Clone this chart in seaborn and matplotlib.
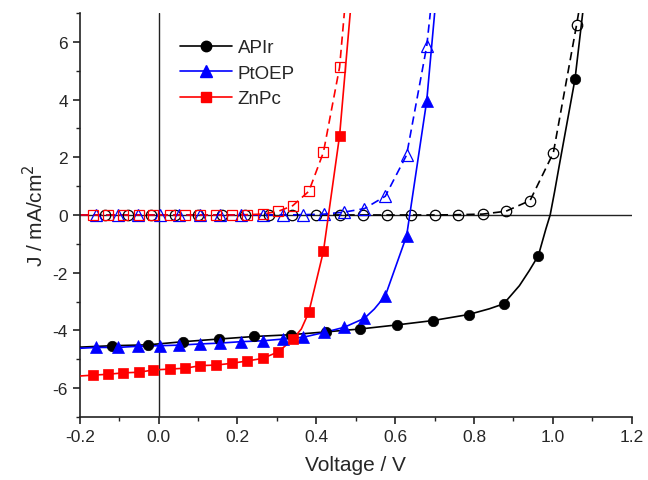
import numpy as np
import matplotlib
matplotlib.use("Agg")
import matplotlib.pyplot as plt
from matplotlib.lines import Line2D
from matplotlib.ticker import AutoMinorLocator, FormatStrFormatter, MultipleLocator
import seaborn as sns

# ===== Data =====
# APIr (black) - illuminated (filled) and dark (open)
apir_light_v = [-0.117, -0.027, 0.063, 0.152, 0.243, 0.335, 0.425, 0.512, 0.604, 0.695, 0.786, 0.875, 0.963, 1.056]
apir_light_j = [-4.53, -4.50, -4.39, -4.30, -4.21, -4.15, -4.05, -3.95, -3.81, -3.66, -3.45, -3.08, -1.41, 4.71]
apir_light_extra_v = [-0.2, 0.839, 0.915, 0.940, 0.982, 0.993, 1.004, 1.016, 1.09]
apir_light_extra_j = [-4.58, -3.25, -2.45, -1.93, -0.49, 0.0, 0.79, 1.71, 8.7]

apir_dark_v = [-0.137, -0.078, -0.018, 0.041, 0.100, 0.160, 0.220, 0.280, 0.339, 0.398, 0.459, 0.518,
               0.579, 0.640, 0.700, 0.759, 0.822, 0.881, 0.942, 1.001, 1.060]
apir_dark_j = [0.0, 0.0, 0.0, 0.0, 0.0, 0.0, 0.0, 0.0, 0.0, 0.0, 0.0, 0.0,
               0.0, 0.0, 0.0, 0.01, 0.03, 0.13, 0.50, 2.15, 6.59]
apir_dark_extra_v = [-0.2, 1.08]
apir_dark_extra_j = [0.0, 8.2]

# PtOEP (blue)
ptoep_light_v = [-0.158, -0.103, -0.053, 0.003, 0.053, 0.104, 0.155, 0.210, 0.264, 0.315, 0.366,
                 0.420, 0.471, 0.522, 0.575, 0.629, 0.680]
ptoep_light_j = [-4.59, -4.59, -4.55, -4.53, -4.51, -4.47, -4.44, -4.39, -4.36, -4.30, -4.24,
                 -4.07, -3.89, -3.58, -2.80, -0.72, 3.96]
ptoep_light_extra_v = [-0.2, 0.547, 0.71]
ptoep_light_extra_j = [-4.62, -3.26, 8.5]

ptoep_dark_v = ptoep_light_v
ptoep_dark_j = [0.0, 0.0, 0.0, 0.0, 0.0, 0.0, 0.0, 0.0, 0.0, 0.0, 0.01,
                0.03, 0.10, 0.22, 0.65, 2.08, 5.85]
ptoep_dark_extra_v = [-0.2, 0.70]
ptoep_dark_extra_j = [0.0, 8.4]

# ZnPc (red)
znpc_light_v = [-0.166, -0.128, -0.089, -0.050, -0.013, 0.028, 0.068, 0.106, 0.146, 0.186, 0.224,
                0.264, 0.304, 0.340, 0.381, 0.418, 0.459]
znpc_light_j = [-5.55, -5.52, -5.47, -5.45, -5.37, -5.34, -5.31, -5.22, -5.20, -5.14, -5.06,
                -4.97, -4.74, -4.31, -3.37, -1.26, 2.75]
znpc_light_extra_v = [-0.2, 0.362, 0.50]
znpc_light_extra_j = [-5.58, -3.95, 9.2]

znpc_dark_v = znpc_light_v
znpc_dark_j = [0.0, 0.0, 0.0, 0.0, 0.0, 0.0, 0.0, 0.0, 0.0, 0.0, 0.01,
               0.03, 0.13, 0.32, 0.82, 2.17, 5.12]
znpc_dark_extra_v = [-0.2, 0.48]
znpc_dark_extra_j = [0.0, 8.4]

series = [
    # label, color, marker, size, light, dark
    ("APIr", "black", "o", 7.5,
     (apir_light_v, apir_light_j, apir_light_extra_v, apir_light_extra_j),
     (apir_dark_v, apir_dark_j, apir_dark_extra_v, apir_dark_extra_j)),
    ("PtOEP", "#0000ff", "^", 8.0,
     (ptoep_light_v, ptoep_light_j, ptoep_light_extra_v, ptoep_light_extra_j),
     (ptoep_dark_v, ptoep_dark_j, ptoep_dark_extra_v, ptoep_dark_extra_j)),
    ("ZnPc", "#ff0000", "s", 6.5,
     (znpc_light_v, znpc_light_j, znpc_light_extra_v, znpc_light_extra_j),
     (znpc_dark_v, znpc_dark_j, znpc_dark_extra_v, znpc_dark_extra_j)),
]

sns.set_theme(style="ticks")
plt.rcParams["font.family"] = ["Liberation Sans", "DejaVu Sans"]
plt.rcParams["axes.unicode_minus"] = False

fig = plt.figure(figsize=(6.48, 4.81), dpi=100)
ax = fig.add_axes([0.123, 0.131, 0.852, 0.840])

ax.axhline(0, color="#222222", lw=1.0, zorder=1)
ax.axvline(0, color="#222222", lw=1.0, zorder=1)


def curve(v, j, ev, ej):
    cv = np.concatenate([v, ev])
    cj = np.concatenate([j, ej])
    order = np.argsort(cv)
    return cv[order], cj[order]


for label, color, marker, ms, light, dark in series:
    # dark curve: dashed line, open markers
    dv, dj = curve(*dark)
    sns.lineplot(x=dv, y=dj, ax=ax, color=color, lw=1.2, ls=(0, (5, 3)),
                 estimator=None, sort=False, zorder=2)
    sns.lineplot(x=dark[0], y=dark[1], ax=ax, color=color, ls="none", marker=marker,
                 markersize=ms, markerfacecolor="none", mec=color, mew=0.9,
                 estimator=None, sort=False, zorder=3)
    # illuminated curve: solid line, filled markers
    lv, lj = curve(*light)
    sns.lineplot(x=lv, y=lj, ax=ax, color=color, lw=1.2,
                 estimator=None, sort=False, zorder=4)
    sns.lineplot(x=light[0], y=light[1], ax=ax, color=color, ls="none", marker=marker,
                 markersize=ms, markerfacecolor=color, mec=color, mew=0.5,
                 estimator=None, sort=False, zorder=5)

ax.set_xlim(-0.2, 1.2)
ax.set_ylim(-7, 7)
ax.xaxis.set_major_locator(MultipleLocator(0.2))
ax.xaxis.set_major_formatter(FormatStrFormatter("%.1f"))
ax.yaxis.set_major_locator(MultipleLocator(2))
ax.xaxis.set_minor_locator(AutoMinorLocator(2))
ax.yaxis.set_minor_locator(AutoMinorLocator(2))
ax.tick_params(which="major", direction="out", length=5, width=1.2, labelsize=12.5, color="#222222")
ax.tick_params(which="minor", direction="out", length=3, width=1.0, color="#222222")

sns.despine(ax=ax)
for side in ["left", "bottom"]:
    ax.spines[side].set_color("#222222")
    ax.spines[side].set_linewidth(1.2)

ax.set_xlabel("Voltage / V", fontsize=15, labelpad=8)
ax.set_ylabel("J / mA/cm$^2$", fontsize=15, labelpad=4)

handles = [Line2D([], [], color=c, marker=m, markersize=ms, lw=1.2, mec=c)
           for _, c, m, ms, _, _ in series]
labels = [s[0] for s in series]
ax.legend(handles, labels, loc="upper left", bbox_to_anchor=(0.181, 0.935), frameon=False,
          fontsize=13.5, handlelength=2.8, handletextpad=0.3, labelspacing=0.45,
          borderpad=0, borderaxespad=0)

ax.set_facecolor("white")
fig.savefig("out.png", dpi=100, facecolor="white")
